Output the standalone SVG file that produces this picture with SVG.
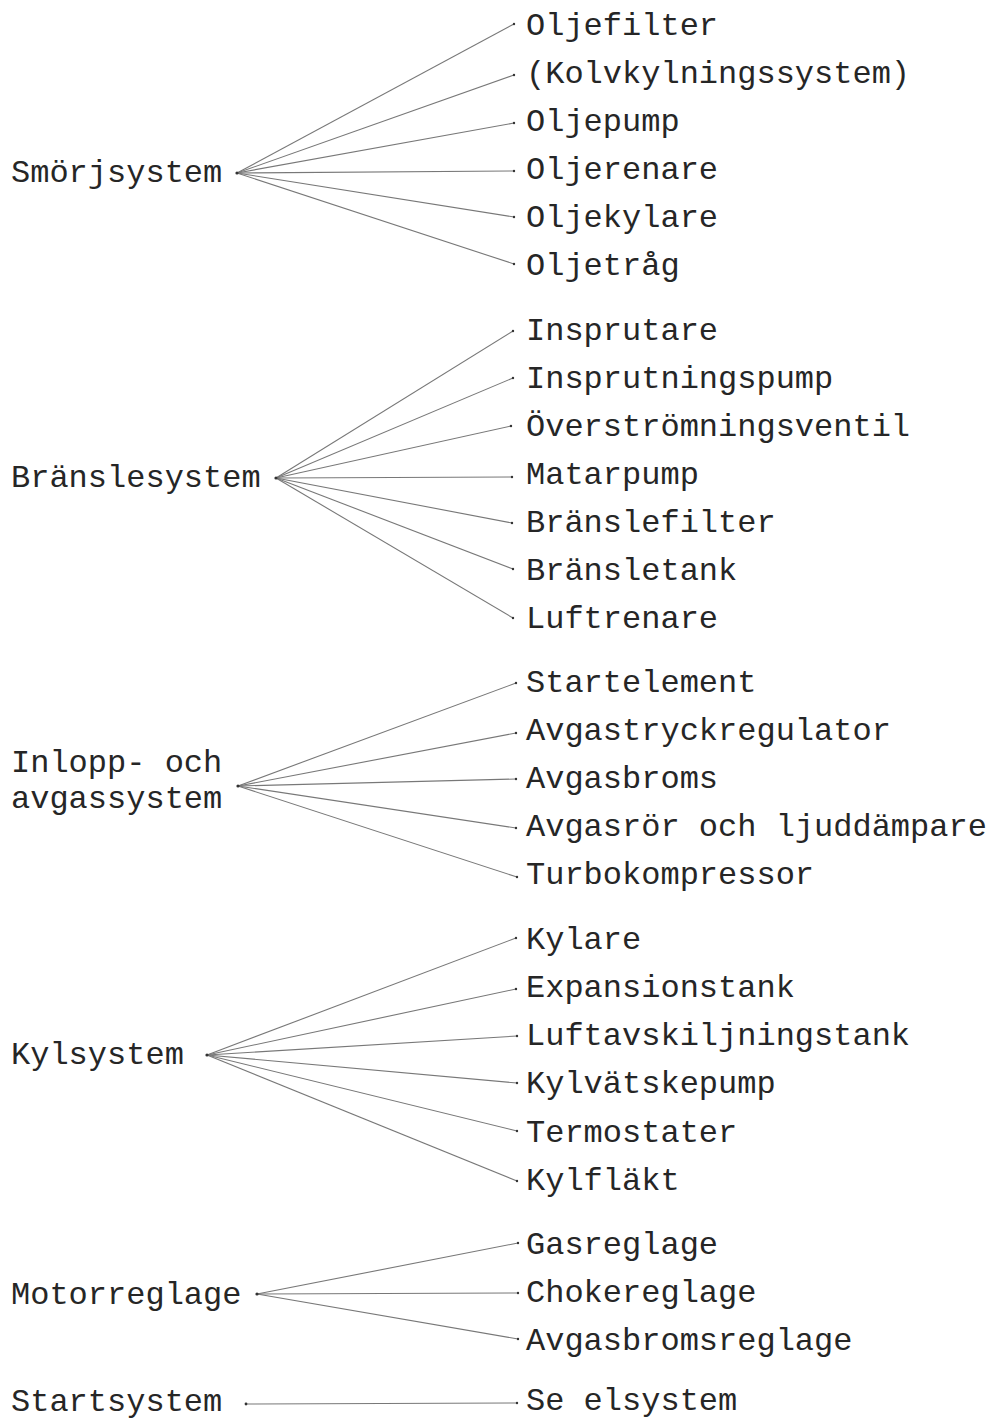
<svg xmlns="http://www.w3.org/2000/svg" width="992" height="1421" viewBox="0 0 992 1421">
  <style>
    text { font-family: "Liberation Mono", "Courier New", monospace; font-size: 32px; fill: #262626; }
    .link line { stroke: #787878; stroke-width: 1.1; fill: none; }
    .link circle { fill: #333; }
  </style>
  <rect width="992" height="1421" fill="#ffffff"/>

  <!-- connectors: hub on the left, fan of lines to each component -->
  <g id="connectors" class="link">
    <!-- Smörjsystem -->
    <line x1="237" y1="173" x2="514" y2="24"/>
    <line x1="237" y1="173" x2="514" y2="75"/>
    <line x1="237" y1="173" x2="514" y2="123"/>
    <line x1="237" y1="173" x2="514" y2="171"/>
    <line x1="237" y1="173" x2="514" y2="217"/>
    <line x1="237" y1="173" x2="514" y2="264"/>
    <circle cx="237" cy="173" r="1.6"/>
    <circle cx="514" cy="24" r="1.2"/><circle cx="514" cy="75" r="1.2"/><circle cx="514" cy="123" r="1.2"/>
    <circle cx="514" cy="171" r="1.2"/><circle cx="514" cy="217" r="1.2"/><circle cx="514" cy="264" r="1.2"/>

    <!-- Bränslesystem -->
    <line x1="276" y1="478" x2="513" y2="331"/>
    <line x1="276" y1="478" x2="513" y2="378"/>
    <line x1="276" y1="478" x2="511" y2="426"/>
    <line x1="276" y1="478" x2="512" y2="477"/>
    <line x1="276" y1="478" x2="512" y2="523"/>
    <line x1="276" y1="478" x2="513" y2="569"/>
    <line x1="276" y1="478" x2="513" y2="618"/>
    <circle cx="276" cy="478" r="1.6"/>
    <circle cx="513" cy="331" r="1.2"/><circle cx="513" cy="378" r="1.2"/><circle cx="511" cy="426" r="1.2"/>
    <circle cx="512" cy="477" r="1.2"/><circle cx="512" cy="523" r="1.2"/><circle cx="513" cy="569" r="1.2"/>
    <circle cx="513" cy="618" r="1.2"/>

    <!-- Inlopp- och avgassystem -->
    <line x1="238" y1="786" x2="516" y2="683"/>
    <line x1="238" y1="786" x2="516" y2="733"/>
    <line x1="238" y1="786" x2="516" y2="779"/>
    <line x1="238" y1="786" x2="516" y2="828"/>
    <line x1="238" y1="786" x2="517" y2="877"/>
    <circle cx="238" cy="786" r="1.6"/>
    <circle cx="516" cy="683" r="1.2"/><circle cx="516" cy="733" r="1.2"/><circle cx="516" cy="779" r="1.2"/>
    <circle cx="516" cy="828" r="1.2"/><circle cx="517" cy="877" r="1.2"/>

    <!-- Kylsystem -->
    <line x1="207" y1="1055" x2="516" y2="938"/>
    <line x1="207" y1="1055" x2="516" y2="989"/>
    <line x1="207" y1="1055" x2="517" y2="1036"/>
    <line x1="207" y1="1055" x2="517" y2="1083"/>
    <line x1="207" y1="1055" x2="517" y2="1131"/>
    <line x1="207" y1="1055" x2="517" y2="1181"/>
    <circle cx="207" cy="1055" r="1.6"/>
    <circle cx="516" cy="938" r="1.2"/><circle cx="516" cy="989" r="1.2"/><circle cx="517" cy="1036" r="1.2"/>
    <circle cx="517" cy="1083" r="1.2"/><circle cx="517" cy="1131" r="1.2"/><circle cx="517" cy="1181" r="1.2"/>

    <!-- Motorreglage -->
    <line x1="257" y1="1294" x2="518" y2="1243"/>
    <line x1="257" y1="1294" x2="518" y2="1293"/>
    <line x1="257" y1="1294" x2="518" y2="1339"/>
    <circle cx="257" cy="1294" r="1.6"/>
    <circle cx="518" cy="1243" r="1.2"/><circle cx="518" cy="1293" r="1.2"/><circle cx="518" cy="1339" r="1.2"/>

    <!-- Startsystem -->
    <line x1="246" y1="1404" x2="517" y2="1403"/>
    <circle cx="246" cy="1404" r="1.4"/><circle cx="517" cy="1403" r="1.2"/>
  </g>

  <!-- system groups -->
  <g id="smorjsystem">
    <text x="11" y="182">Smörjsystem</text>
    <text x="526" y="35">Oljefilter</text>
    <text x="526" y="83">(Kolvkylningssystem)</text>
    <text x="526" y="131">Oljepump</text>
    <text x="526" y="179">Oljerenare</text>
    <text x="526" y="227">Oljekylare</text>
    <text x="526" y="275">Oljetråg</text>
  </g>

  <g id="branslesystem">
    <text x="11" y="487">Bränslesystem</text>
    <text x="526" y="340">Insprutare</text>
    <text x="526" y="388">Insprutningspump</text>
    <text x="526" y="436">Överströmningsventil</text>
    <text x="526" y="484">Matarpump</text>
    <text x="526" y="532">Bränslefilter</text>
    <text x="526" y="580">Bränsletank</text>
    <text x="526" y="628">Luftrenare</text>
  </g>

  <g id="inlopp-avgassystem">
    <text x="11" y="772">Inlopp- och</text>
    <text x="11" y="808">avgassystem</text>
    <text x="526" y="692">Startelement</text>
    <text x="526" y="740">Avgastryckregulator</text>
    <text x="526" y="788">Avgasbroms</text>
    <text x="526" y="836">Avgasrör och ljuddämpare</text>
    <text x="526" y="884">Turbokompressor</text>
  </g>

  <g id="kylsystem">
    <text x="11" y="1064">Kylsystem</text>
    <text x="526" y="949">Kylare</text>
    <text x="526" y="997">Expansionstank</text>
    <text x="526" y="1045">Luftavskiljningstank</text>
    <text x="526" y="1093">Kylvätskepump</text>
    <text x="526" y="1142">Termostater</text>
    <text x="526" y="1190">Kylfläkt</text>
  </g>

  <g id="motorreglage">
    <text x="11" y="1304">Motorreglage</text>
    <text x="526" y="1254">Gasreglage</text>
    <text x="526" y="1302">Chokereglage</text>
    <text x="526" y="1350">Avgasbromsreglage</text>
  </g>

  <g id="startsystem">
    <text x="11" y="1411">Startsystem</text>
    <text x="526" y="1410">Se elsystem</text>
  </g>
</svg>
